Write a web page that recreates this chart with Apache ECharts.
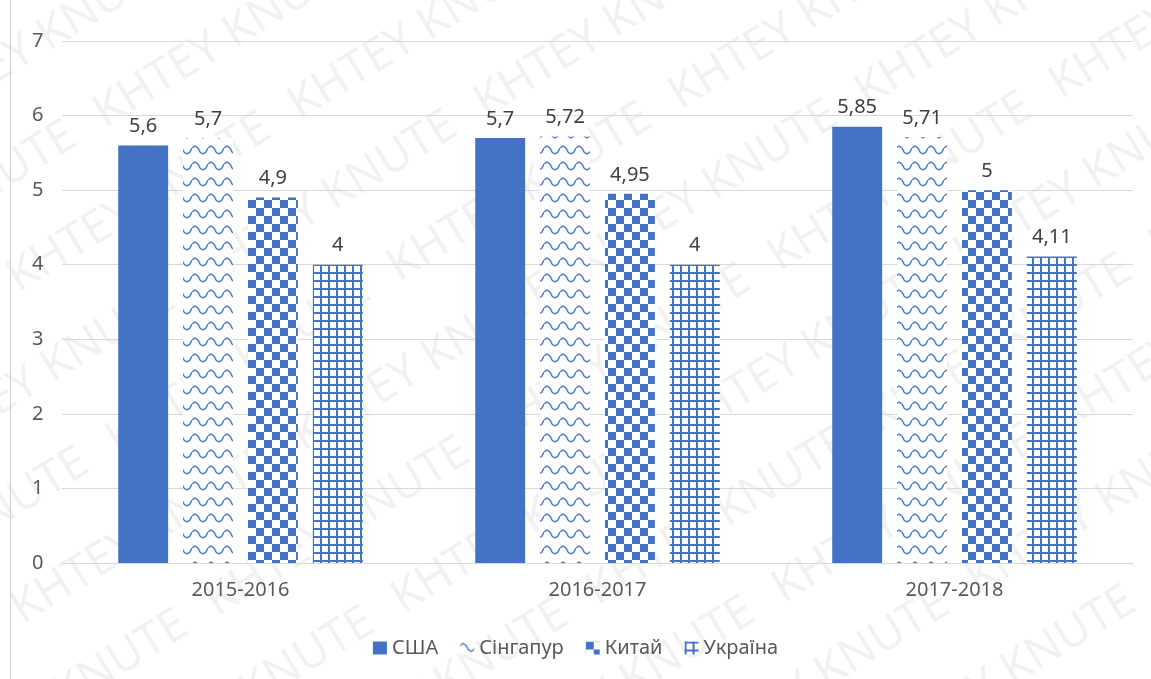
<!DOCTYPE html>
<html>
<head>
<meta charset="utf-8">
<script src="https://cdn.jsdelivr.net/npm/echarts@6/dist/echarts.min.js"></script>
<style>html,body{margin:0;padding:0;background:#fff;}#c{width:1151px;height:679px;}</style>
</head>
<body>
<div id="c"></div>
<script>
const categories = ['2015-2016', '2016-2017', '2017-2018'];
const seriesNames = ['США', 'Сінгапур', 'Китай', 'Україна'];
const usa = [5.6, 5.7, 5.85];
const singapore = [5.7, 5.72, 5.71];
const china = [4.9, 4.95, 5];
const ukraine = [4, 4, 4.11];
const yTicks = [0, 1, 2, 3, 4, 5, 6, 7];

const BLUE = '#4472C4';
const FONT = 'Noto Sans';

function tile(w, h, draw) {
  const c = document.createElement('canvas');
  c.width = w; c.height = h;
  const ctx = c.getContext('2d');
  ctx.fillStyle = '#fff';
  ctx.fillRect(0, 0, w, h);
  draw(ctx);
  return c;
}
const checker = tile(16, 16, ctx => {
  ctx.fillStyle = BLUE;
  ctx.fillRect(0, 0, 8, 8);
  ctx.fillRect(8, 8, 8, 8);
});
const gridPat = tile(8, 8, ctx => {
  ctx.fillStyle = BLUE;
  ctx.fillRect(0, 0, 2, 8);
  ctx.fillRect(0, 0, 8, 2);
});
const wave = tile(16, 16, ctx => {
  ctx.strokeStyle = BLUE;
  ctx.lineWidth = 1.4;
  ctx.beginPath();
  ctx.moveTo(0, 4);
  ctx.lineTo(3, 2); ctx.lineTo(6, 4); ctx.lineTo(8, 8); ctx.lineTo(11, 10); ctx.lineTo(14, 8); ctx.lineTo(16, 4);
  ctx.stroke();
});

function fmt(v) { return String(v).replace('.', ','); }

const fills = [BLUE, {image: wave, repeat: 'repeat'}, {image: checker, repeat: 'repeat'}, {image: gridPat, repeat: 'repeat'}];
const dataSets = [usa, singapore, china, ukraine];

// watermark: text tiled along rotated rows
const wm = [];
const ang = 0.55, step = 330, rowGap = 95;
const ux = Math.cos(ang), uy = -Math.sin(ang);
const vx = Math.sin(ang), vy = Math.cos(ang);
for (let r = -8; r < 12; r++) {
  for (let k = -3; k < 6; k++) {
    const x = -100 + k * step * ux + r * rowGap * vx + (r % 2) * 160 * ux;
    const y = 100 + k * step * uy + r * rowGap * vy + (r % 2) * 160 * uy;
    if (x < -400 || x > 1200 || y < -100 || y > 900) continue;
    wm.push({
      type: 'text', z: -10, silent: true,
      x: x, y: y, rotation: ang,
      style: {text: 'KHTEY KNUTE', fill: 'rgba(0,0,0,0.055)', font: '46px "Noto Sans"'}
    });
  }
}

const chart = echarts.init(document.getElementById('c'), null, {renderer: 'canvas'});
chart.setOption({
  animation: false,
  backgroundColor: '#fff',
  textStyle: {fontFamily: FONT},
  graphic: wm.concat([{
    type: 'line', silent: true,
    shape: {x1: 10.5, y1: 0, x2: 10.5, y2: 679},
    style: {stroke: '#d0d0d0', lineWidth: 1}
  }]),
  grid: {left: 62, right: 18, top: 41, bottom: 116, containLabel: false},
  legend: {
    bottom: 16, left: 'center',
    itemWidth: 14, itemHeight: 13, itemGap: 22,
    textStyle: {color: '#595959', fontSize: 20, fontFamily: FONT},
    data: seriesNames.map(n => ({name: n, icon: 'rect'}))
  },
  xAxis: {
    type: 'category', data: categories,
    axisLine: {lineStyle: {color: '#d9d9d9'}},
    axisTick: {show: false},
    axisLabel: {color: '#595959', fontSize: 20, margin: 17}
  },
  yAxis: {
    type: 'value', min: 0, max: 7, interval: 1,
    axisLine: {show: false}, axisTick: {show: false},
    splitLine: {lineStyle: {color: '#d9d9d9'}},
    axisLabel: {color: '#595959', fontSize: 20, margin: 30, align: 'left',
      formatter: v => yTicks.includes(v) ? String(v) : ''}
  },
  series: seriesNames.map((n, i) => ({
    name: n, type: 'bar', data: dataSets[i],
    barGap: '30%', barCategoryGap: '31.5%',
    itemStyle: {color: fills[i]},
    label: {show: true, position: 'top', distance: 9, color: '#404040', fontSize: 20, formatter: p => fmt(p.value)}
  }))
});
</script>
</body>
</html>
